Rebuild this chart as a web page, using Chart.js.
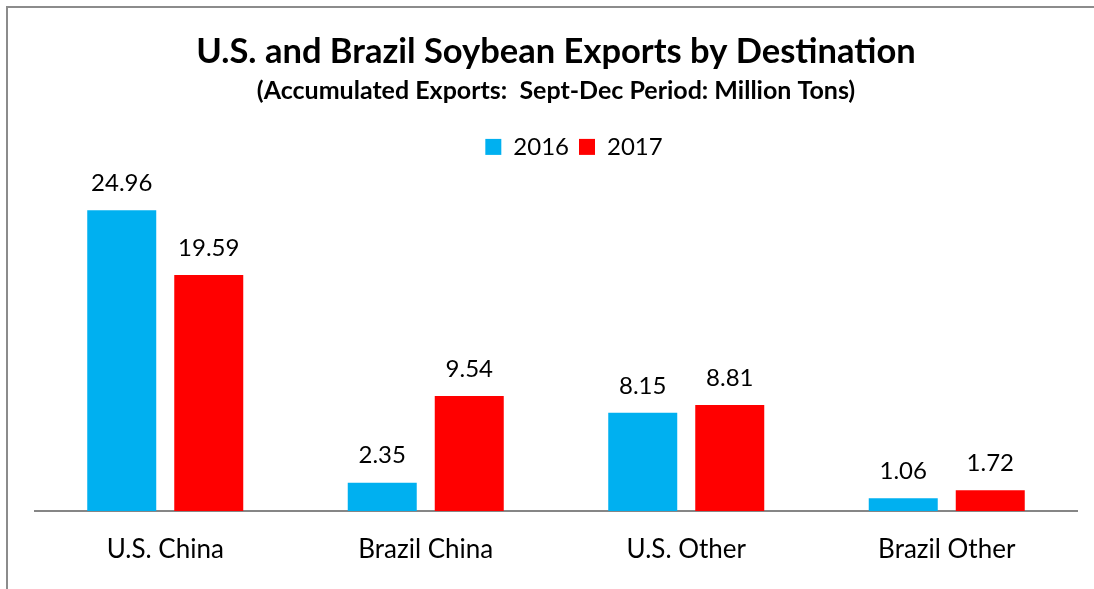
<!DOCTYPE html>
<html>
<head>
<meta charset="utf-8">
<script src="https://cdn.jsdelivr.net/npm/chart.js@4/dist/chart.umd.min.js"></script>
<style>
  html, body { margin: 0; padding: 0; background: #fff; overflow: hidden; }
  #wrap { width: 1094px; height: 589px; position: relative; }
</style>
</head>
<body>
<div id="wrap"><canvas id="exportsChart" width="1094" height="589"></canvas></div>
<script>
// Chart data
const categories = ['U.S. China', 'Brazil China', 'U.S. Other', 'Brazil Other'];
const exports2016 = [24.96, 2.35, 8.15, 1.06];
const exports2017 = [19.59, 9.54, 8.81, 1.72];

const FONT = 'Lato, "Open Sans", sans-serif';

// Gray frame around the chart (only top/left visible in the picture)
const framePlugin = {
    id: 'frame',
    beforeDraw(chart) {
        const ctx = chart.ctx;
        ctx.save();
        ctx.fillStyle = '#fff';
        ctx.fillRect(0, 0, chart.width, chart.height);
        ctx.strokeStyle = '#8c8c8c';
        ctx.lineWidth = 2;
        ctx.strokeRect(7, 7, chart.width + 50, chart.height + 50);
        ctx.restore();
    }
};

// Legend sits a bit right of centre in the original
const legendShift = {
    id: 'legendShift',
    afterLayout(chart) {
        chart.legend.left += 18;
        chart.legend.right += 18;
    }
};

// Value labels above the bars
const valueLabels = {
    id: 'valueLabels',
    afterDatasetsDraw(chart) {
        const ctx = chart.ctx;
        ctx.save();
        ctx.font = '24px ' + FONT;
        ctx.fillStyle = '#000';
        ctx.textAlign = 'center';
        ctx.textBaseline = 'middle';
        chart.data.datasets.forEach((ds, i) => {
            chart.getDatasetMeta(i).data.forEach((bar, j) => {
                ctx.fillText(ds.data[j].toFixed(2), bar.x, bar.y - 27);
            });
        });
        ctx.restore();
    }
};

const ctx = document.getElementById('exportsChart').getContext('2d');

new Chart(ctx, {
    type: 'bar',
    data: {
        labels: categories,
        datasets: [{
            label: '2016',
            data: exports2016,
            backgroundColor: '#00b0f0',
            categoryPercentage: 0.668,
            barPercentage: 0.793
        }, {
            label: '2017',
            data: exports2017,
            backgroundColor: '#ff0000',
            categoryPercentage: 0.668,
            barPercentage: 0.793
        }]
    },
    options: {
        responsive: false,
        animation: false,
        layout: {
            padding: { left: 35, right: 17, top: 0, bottom: 0 }
        },
        plugins: {
            title: {
                display: true,
                text: 'U.S. and Brazil Soybean Exports by Destination',
                color: '#000',
                font: { family: FONT, size: 34.5, weight: 'bold', lineHeight: 1.2 },
                padding: { top: 31, bottom: 0 }
            },
            subtitle: {
                display: true,
                text: '(Accumulated Exports:  Sept-Dec Period: Million Tons)',
                color: '#000',
                font: { family: FONT, size: 25, weight: 'bold', lineHeight: 1.2 },
                padding: { top: 4, bottom: 18.5 }
            },
            legend: {
                position: 'top',
                labels: {
                    color: '#000',
                    font: { family: FONT, size: 24 },
                    boxWidth: 16,
                    boxHeight: 16,
                    padding: 10
                }
            },
            tooltip: { enabled: false }
        },
        scales: {
            x: {
                grid: { display: false, drawTicks: false },
                border: { display: true, color: '#868686', width: 2 },
                ticks: {
                    color: '#000',
                    font: { family: FONT, size: 26 },
                    padding: 23.4
                }
            },
            y: {
                display: false,
                min: 0,
                max: 28.4
            }
        }
    },
    plugins: [framePlugin, legendShift, valueLabels]
});
</script>
</body>
</html>
